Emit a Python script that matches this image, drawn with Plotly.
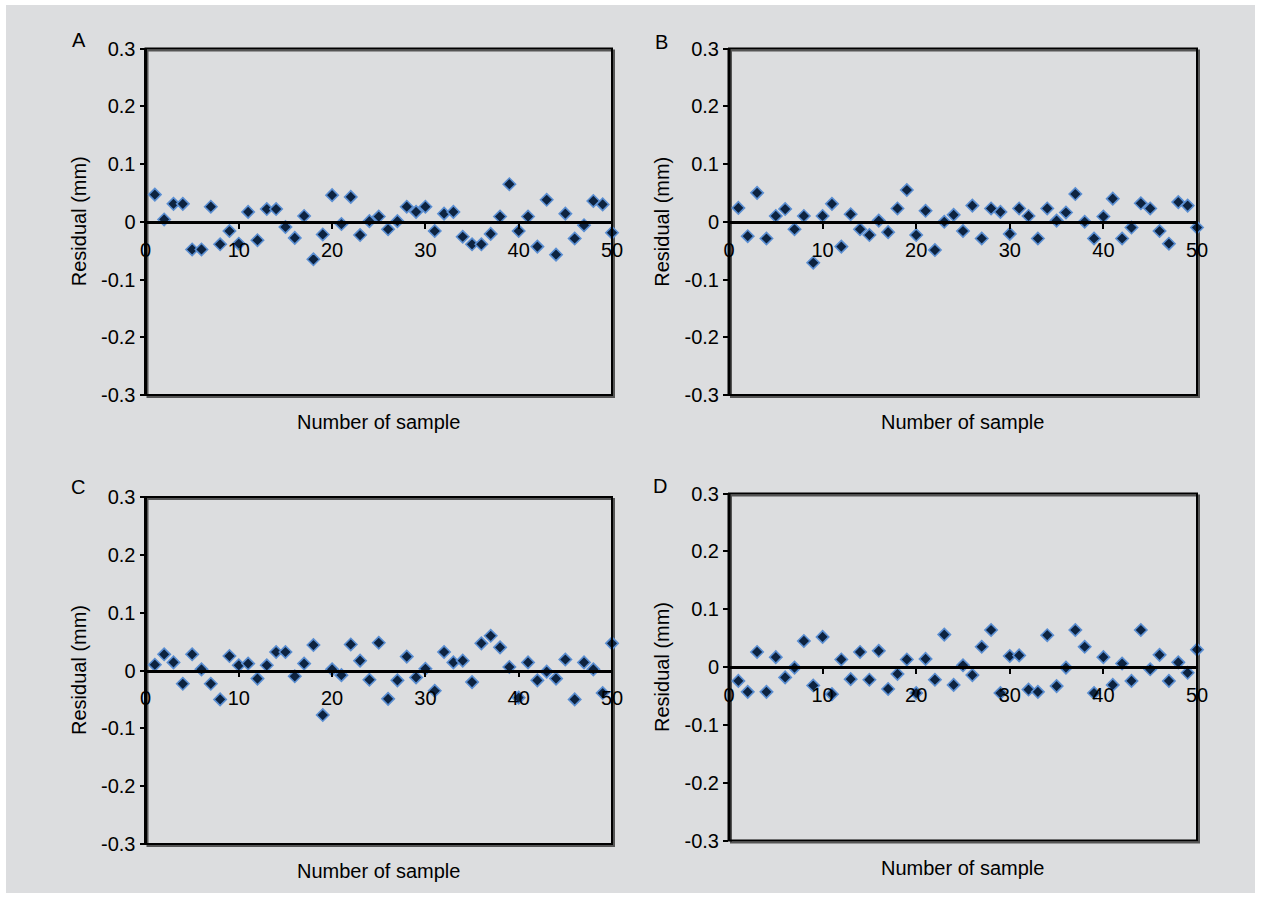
import plotly.graph_objects as go

W, H = 1261, 898

samples = list(range(1, 51))

residual_A = [0.047, 0.004, 0.031, 0.031, -0.048, -0.048, 0.026, -0.039, -0.016, -0.038,
              0.017, -0.032, 0.022, 0.022, -0.009, -0.028, 0.010, -0.065, -0.022, 0.046,
              -0.004, 0.043, -0.023, 0.001, 0.009, -0.013, 0.001, 0.026, 0.017, 0.026,
              -0.016, 0.014, 0.017, -0.026, -0.039, -0.039, -0.021, 0.009, 0.065, -0.016,
              0.009, -0.043, 0.038, -0.057, 0.014, -0.029, -0.006, 0.036, 0.030, -0.019]
residual_B = [0.024, -0.025, 0.050, -0.029, 0.010, 0.022, -0.013, 0.010, -0.071, 0.010,
              0.031, -0.043, 0.013, -0.013, -0.023, 0.002, -0.018, 0.023, 0.055, -0.023,
              0.019, -0.049, 0.000, 0.012, -0.016, 0.028, -0.029, 0.023, 0.017, -0.021,
              0.023, 0.010, -0.029, 0.023, 0.002, 0.016, 0.048, 0.000, -0.029, 0.009,
              0.040, -0.029, -0.010, 0.032, 0.023, -0.016, -0.038, 0.034, 0.028, -0.010]
residual_C = [0.010, 0.028, 0.014, -0.023, 0.028, 0.002, -0.023, -0.050, 0.025, 0.009,
              0.012, -0.014, 0.009, 0.032, 0.032, -0.010, 0.012, 0.044, -0.077, 0.002,
              -0.008, 0.045, 0.017, -0.016, 0.048, -0.049, -0.017, 0.024, -0.012, 0.003,
              -0.035, 0.032, 0.014, 0.017, -0.020, 0.047, 0.060, 0.040, 0.006, -0.047,
              0.014, -0.017, -0.002, -0.014, 0.019, -0.050, 0.014, 0.002, -0.039, 0.047]
residual_D = [-0.024, -0.043, 0.026, -0.043, 0.017, -0.018, -0.001, 0.045, -0.032, 0.052,
              -0.047, 0.013, -0.021, 0.026, -0.022, 0.028, -0.038, -0.012, 0.013, -0.045,
              0.014, -0.022, 0.056, -0.031, 0.003, -0.014, 0.035, 0.064, -0.045, 0.019,
              0.020, -0.039, -0.043, 0.055, -0.033, -0.001, 0.064, 0.035, -0.045, 0.017,
              -0.031, 0.006, -0.024, 0.064, -0.004, 0.021, -0.024, 0.008, -0.010, 0.030]

panel_labels = ["A", "B", "C", "D"]
x_ticks = [0, 10, 20, 30, 40, 50]
y_ticks = [0.3, 0.2, 0.1, 0, -0.1, -0.2, -0.3]
y_ticktext = ["0.3", "0.2", "0.1", "0", "-0.1", "-0.2", "-0.3"]
x_title = "Number of sample"
y_title = "Residual (mm)"

series = [residual_A, residual_B, residual_C, residual_D]

# plot areas in window pixels: (left, right, top, bottom)
boxes = [(145.5, 612, 48.5, 395), (729, 1197, 48.5, 395),
         (145.5, 612, 497, 844), (729, 1197, 493.5, 840.5)]
letter_pos = [(79, 40), (661, 42), (78, 487), (660, 486)]

FONT = "Liberation Sans, Arial, sans-serif"
FS = 20

def px(x):
    return x / W

def py(y):
    return 1 - y / H

fig = go.Figure()
layout = dict(width=W, height=H, margin=dict(l=0, r=0, t=0, b=0, pad=0, autoexpand=False),
              paper_bgcolor="white", plot_bgcolor="white", showlegend=False,
              font=dict(family=FONT, size=FS, color="black"))
shapes = [dict(type="rect", xref="paper", yref="paper", x0=px(6), x1=px(1255),
               y0=py(5), y1=py(893), fillcolor="#DCDDDF", line=dict(width=0), layer="below")]
annotations = []

for k, (vals, box) in enumerate(zip(series, boxes)):
    l, r, t, b = box
    sfx = "" if k == 0 else str(k + 1)
    xa, ya = "x" + sfx, "y" + sfx
    fig.add_trace(go.Scatter(
        x=samples, y=vals, mode="markers", xaxis=xa, yaxis=ya,
        marker=dict(symbol="diamond", size=9.5, color="#0D2340",
                    line=dict(color="#5A8ED2", width=1.6)),
        cliponaxis=False))
    ymid = (t + b) / 2
    layout["xaxis" + sfx] = dict(
        domain=[px(l), px(r)], range=[0, 50], anchor="free", position=py(ymid),
        tickvals=x_ticks, ticktext=[str(v) for v in x_ticks],
        ticks="outside", ticklen=5, tickwidth=1.5, tickcolor="black",
        showline=True, linecolor="black", linewidth=2.5, showgrid=False, zeroline=False,
        ticklabelstandoff=4, tickfont=dict(family=FONT, size=FS, color="black"),
        automargin=False, fixedrange=True)
    layout["yaxis" + sfx] = dict(
        domain=[py(b), py(t)], range=[-0.3, 0.3], anchor=xa,
        tickvals=y_ticks, ticktext=y_ticktext,
        ticks="outside", ticklen=5, tickwidth=1.5, tickcolor="black",
        showline=False, showgrid=False, zeroline=False,
        tickfont=dict(family=FONT, size=FS, color="black"),
        automargin=False, fixedrange=True)
    # shadow and frame
    shapes.append(dict(type="rect", xref="paper", yref="paper",
                       x0=px(l + 2), x1=px(r + 2), y0=py(b + 2), y1=py(t + 2),
                       line=dict(color="#555555", width=2), layer="below",
                       fillcolor="rgba(0,0,0,0)"))
    shapes.append(dict(type="rect", xref="paper", yref="paper",
                       x0=px(l), x1=px(r), y0=py(b), y1=py(t),
                       line=dict(color="black", width=2)))
    shapes.append(dict(type="line", xref="paper", yref="paper",
                       x0=px(l), x1=px(l), y0=py(b), y1=py(t),
                       line=dict(color="black", width=3)))
    cx = (l + r) / 2
    annotations.append(dict(text=x_title, x=px(cx), y=py(b + 27), xref="paper", yref="paper",
                            showarrow=False, xanchor="center", yanchor="middle",
                            font=dict(family=FONT, size=FS, color="black")))
    annotations.append(dict(text=y_title, x=px(l - 67), y=py(ymid), xref="paper", yref="paper",
                            showarrow=False, xanchor="center", yanchor="middle", textangle=-90,
                            font=dict(family=FONT, size=FS, color="black")))
    lx, ly = letter_pos[k]
    annotations.append(dict(text=panel_labels[k], x=px(lx), y=py(ly), xref="paper", yref="paper",
                            showarrow=False, xanchor="center", yanchor="middle",
                            font=dict(family=FONT, size=FS, color="black")))

layout["shapes"] = shapes
layout["annotations"] = annotations
fig.update_layout(**layout)

fig.write_html("out.html",
               post_script="document.body.style.margin='0';document.documentElement.style.overflow='hidden';",
               config={"displayModeBar": False})
